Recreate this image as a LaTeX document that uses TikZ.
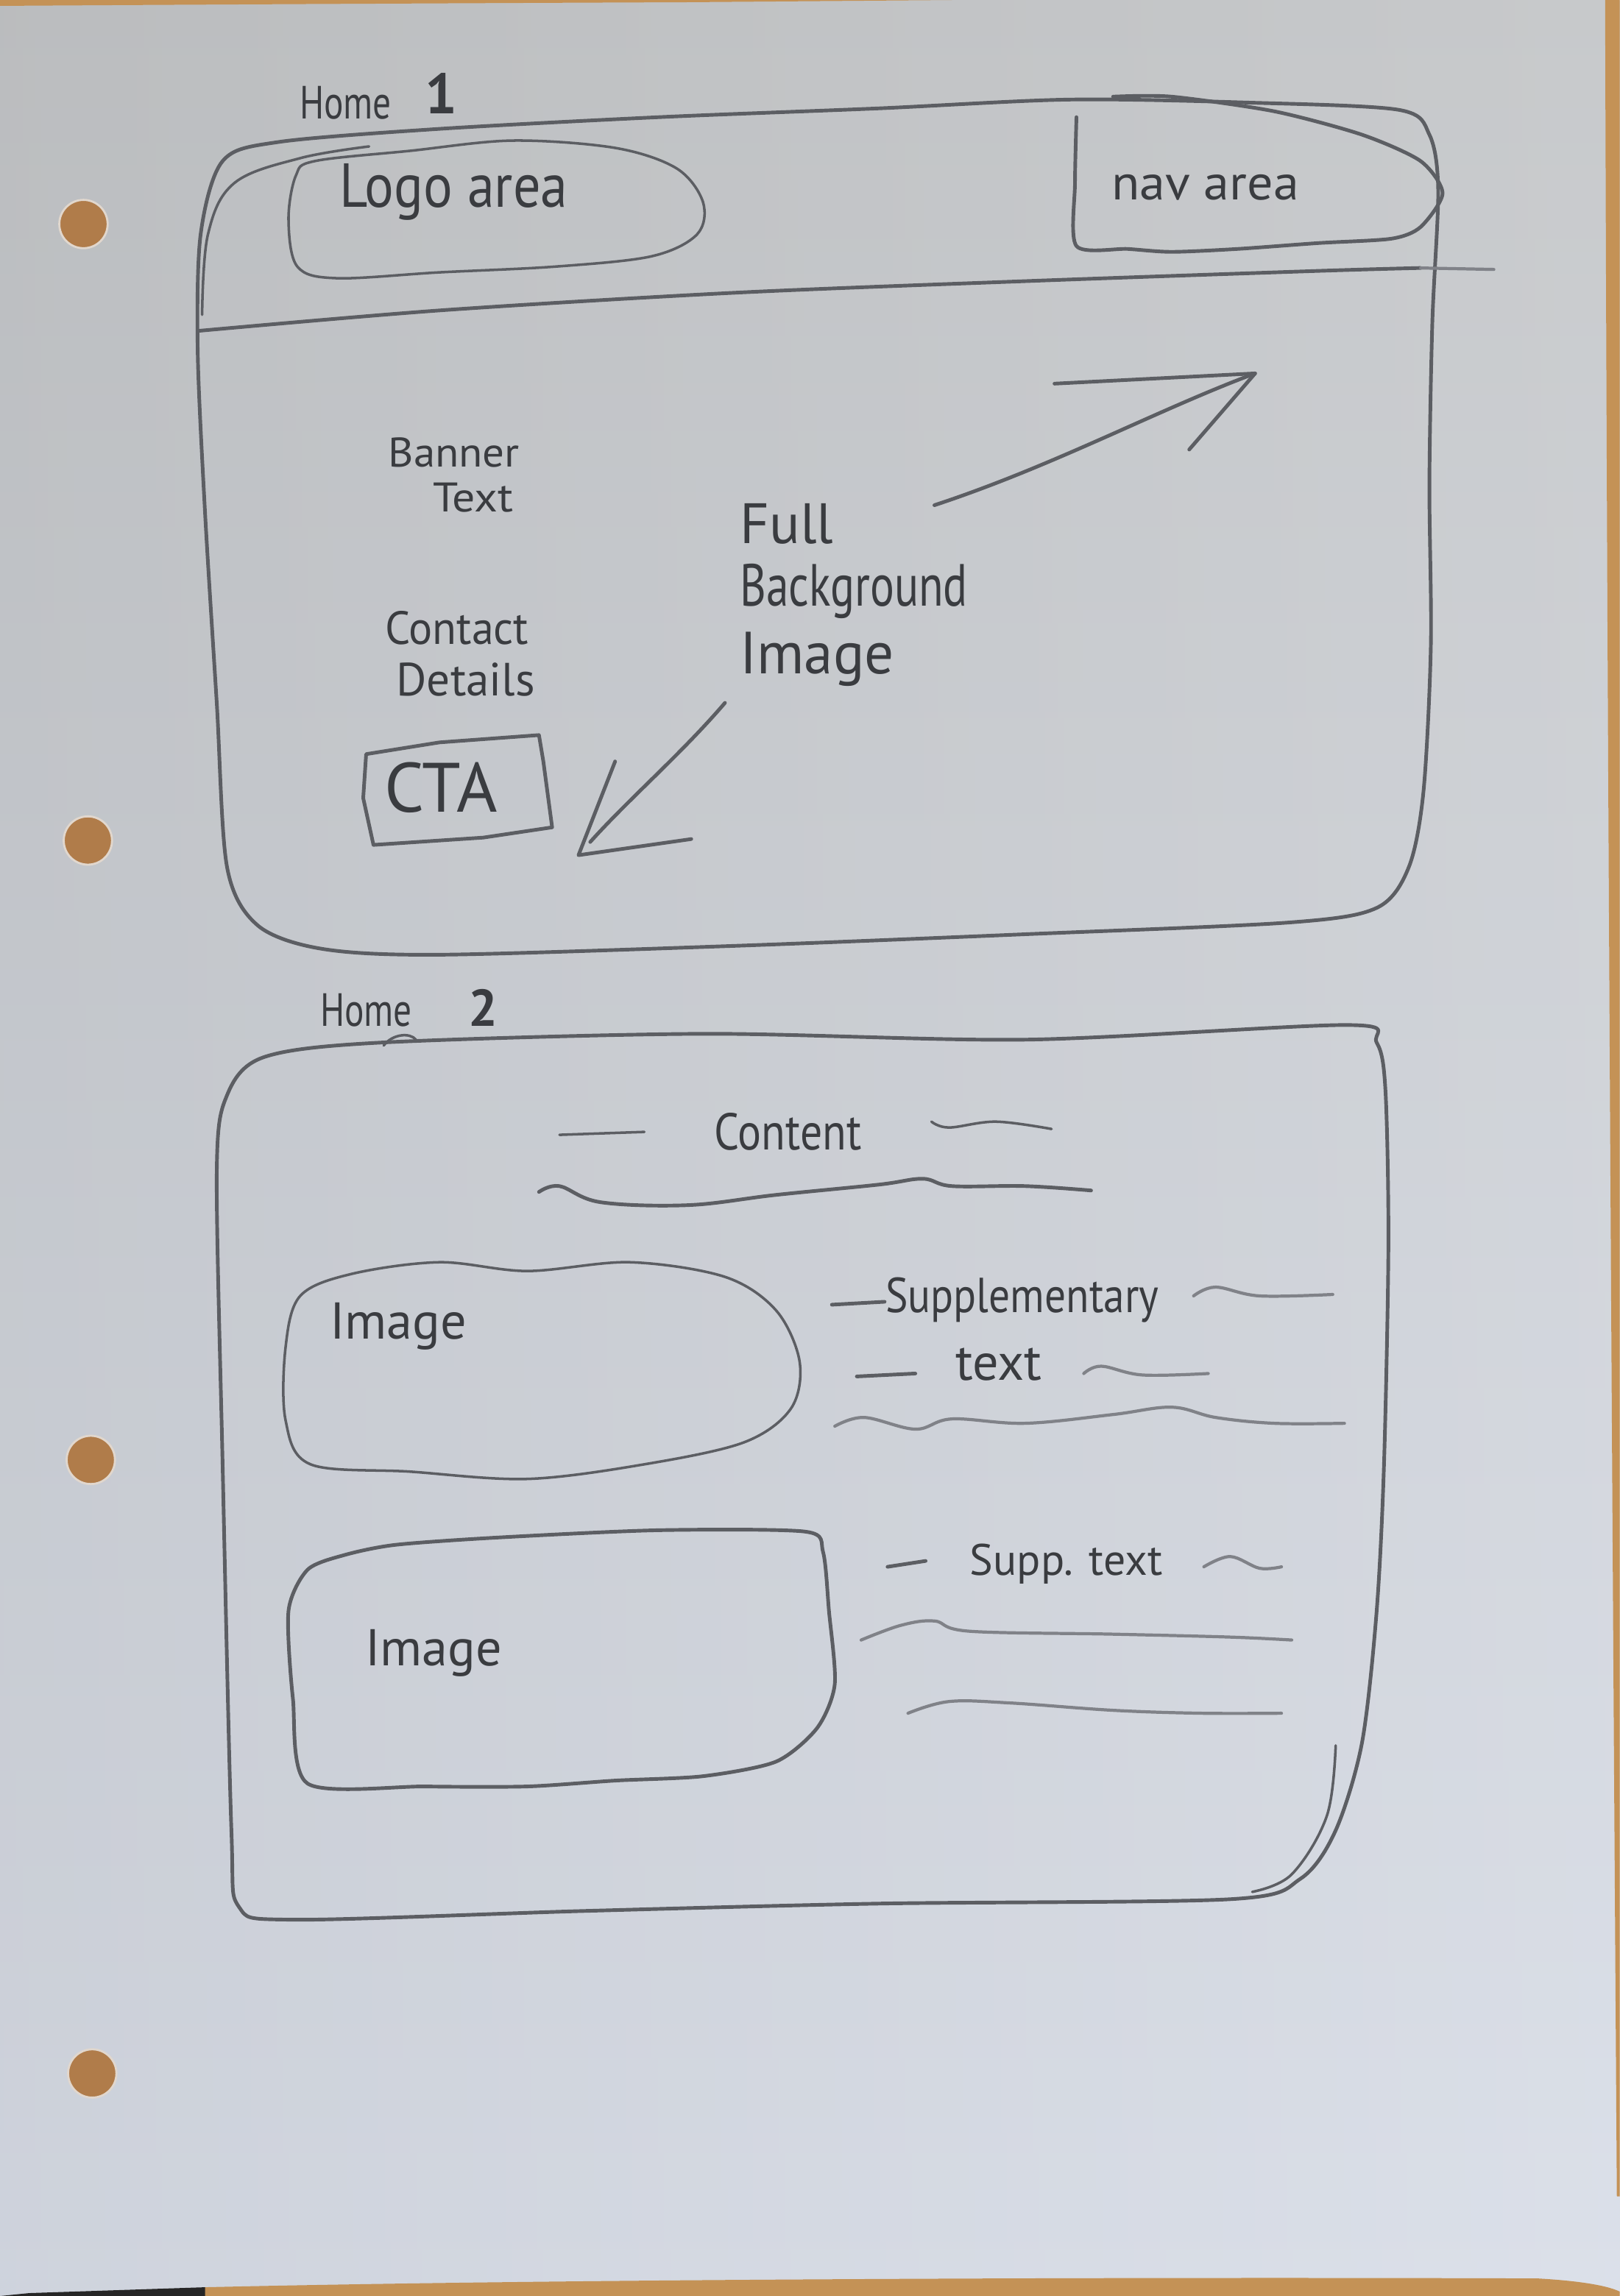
\documentclass[tikz,border=0pt]{standalone}
\usepackage{fontspec}
\usepackage{graphicx}
\newfontfamily\handfont{PT Sans}
\definecolor{paperA}{RGB}{197,199,201}
\definecolor{paperB}{RGB}{218,223,233}
\definecolor{wood}{RGB}{196,146,86}
\definecolor{woodDark}{RGB}{150,100,55}
\definecolor{holeFill}{RGB}{176,124,74}
\definecolor{holeRim}{RGB}{225,215,205}
\definecolor{pencil}{RGB}{92,94,99}
\definecolor{pencilDark}{RGB}{58,60,64}
\definecolor{pencilLight}{RGB}{128,130,136}
\newcommand{\nrw}[2][0.8]{\scalebox{#1}[1]{#2}}
\begin{document}
\begin{tikzpicture}[x=0.019892cm, y=-0.019892cm,
  stroke/.style={draw=pencil, line width=1.4pt, line cap=round, line join=round},
  thin stroke/.style={draw=pencil, line width=1.0pt, line cap=round, line join=round},
  faint/.style={draw=pencilLight, line width=1.2pt, line cap=round, line join=round},
  hand/.style={text=pencilDark, inner sep=0pt},
  hole/.style={fill=holeFill, draw=holeRim, line width=0.8pt}]
\useasboundingbox (0,0) rectangle (1106,1568);

% sheet of paper with the desk showing at the edges
\shade[top color=paperA, bottom color=paperB] (0,0) rectangle (1106,1568);
\shade[left color=black, right color=white, opacity=0.05] (0,0) rectangle (1106,1568);
\fill[wood] (0,0) -- (0,4) .. controls (150,3) and (350,2) .. (470,1.5) -- (650,0) -- cycle;
\fill[wood] (1096,0) -- (1106,0) -- (1106,1500) -- (1104,1500) .. controls (1100,900) and (1097,400) .. (1096,0) -- cycle;
\fill[wood] (120,1568) -- (140,1562) .. controls (400,1556) and (800,1555) .. (1050,1556) .. controls (1085,1558) and (1100,1562) .. (1106,1565) -- (1106,1568) -- cycle;
\fill[black!85] (0,1568) -- (20,1566) -- (140,1562) -- (140,1568) -- cycle;

% punch holes
\foreach \hx/\hy in {57/153, 60/574, 62/997, 63/1416}
  \draw[hole] (\hx,\hy) circle (16.5);

% ---------- Home 1 ----------
\node[hand, font={\handfont\fontsize{18}{20}\selectfont}] (home1) at (236,70) {\nrw[0.78]{Home}};
\node[hand, font={\handfont\bfseries\fontsize{22}{24}\selectfont}] (home1num) at (301,64) {1};

% outer page frame
\draw[stroke] plot[smooth cycle, tension=0.5] coordinates {
  (152,110) (190,97) (300,88) (450,80) (600,74) (730,68) (850,70) (955,75)
  (976,92) (982,130) (978,220) (976,330) (977,440) (972,540) (962,592)
  (940,620) (880,630) (700,638) (500,646) (300,652) (220,648) (176,632)
  (155,592) (148,480) (140,350) (135,240) (137,160)};
\draw[thin stroke] plot[smooth, tension=0.6] coordinates {(138,215) (142,160) (160,125) (205,108) (252,100)};

% header divider
\draw[stroke] plot[smooth, tension=0.5] coordinates {(135,226) (300,212) (500,200) (700,192) (900,185) (970,183)};
\draw[faint] (970,183) -- (1020,184);

% logo area
\draw[thin stroke] plot[smooth cycle, tension=0.55] coordinates {
  (215,110) (280,103) (350,96) (420,101) (462,115) (480,138) (476,160)
  (445,175) (380,182) (300,186) (230,190) (203,182) (197,150) (202,120)};
\node[hand, font={\handfont\fontsize{24}{26}\selectfont}] (logo) at (310,131) {\nrw[0.88]{Logo area}};

% navigation area
\draw[stroke] plot[smooth, tension=0.45] coordinates {
  (735,80) (734,125) (735,168) (770,170) (800,172) (845,170) (900,166)
  (950,163) (970,155) (985,132) (970,110) (930,92) (870,76) (800,66) (760,66)};
\node[hand, font={\handfont\fontsize{19}{21}\selectfont}] (nav) at (823,128) {\nrw[1.05]{nav area}};

% banner texts
\node[hand, font={\handfont\fontsize{16}{18}\selectfont}] (banner) at (310,309) {\nrw[1.05]{Banner}};
\node[hand, font={\handfont\fontsize{16}{18}\selectfont}] (bannertext) at (323,340) {\nrw[1.1]{Text}};
\node[hand, font={\handfont\fontsize{18}{20}\selectfont}] (contact) at (312,429) {\nrw[0.95]{Contact}};
\node[hand, font={\handfont\fontsize{18}{20}\selectfont}] (details) at (318,464) {\nrw[1.0]{Details}};

% call to action button
\draw[stroke] (250,515) -- (300,507) -- (368,502) -- (371,520) -- (377,565)
  -- (330,572) -- (255,577) -- (248,545) -- cycle;
\node[hand, font={\handfont\fontsize{27}{29}\selectfont}] (cta) at (301,538) {CTA};

% background image note
\node[hand, anchor=west, font={\handfont\fontsize{22}{24}\selectfont}] (full) at (505,358) {\nrw[1.0]{Full}};
\node[hand, anchor=west, font={\handfont\fontsize{23}{25}\selectfont}] (bkg) at (505,404) {\nrw[0.76]{Background}};
\node[hand, anchor=west, font={\handfont\fontsize{23}{25}\selectfont}] (bimg) at (505,450) {\nrw[0.98]{Image}};

% arrows pointing to the corners
\coordinate (a1s) at (638,345);
\coordinate (a1t) at (857,255);
\draw[stroke] (a1s) .. controls (720,318) and (790,280) .. (a1t);
\draw[stroke] (720,262) -- (a1t) -- (812,307);
\coordinate (a2s) at (495,480);
\coordinate (a2t) at (395,584);
\draw[stroke] (a2s) .. controls (465,515) and (430,545) .. (403,575);
\draw[stroke] (420,520) -- (a2t) -- (472,573);

% ---------- Home 2 ----------
\node[hand, font={\handfont\fontsize{18}{20}\selectfont}] (home2) at (250,690) {\nrw[0.78]{Home}};
\node[hand, font={\handfont\bfseries\fontsize{20}{22}\selectfont}] (home2num) at (330,688) {2};

\draw[stroke] plot[smooth cycle, tension=0.5] coordinates {
  (180,722) (260,712) (480,706) (700,710) (920,700) (940,712) (946,745)
  (948,850) (945,1000) (940,1100) (930,1190) (912,1250) (888,1283)
  (840,1297) (600,1300) (400,1305) (200,1311) (163,1302) (158,1250)
  (152,1000) (148,800) (155,748)};
\draw[thin stroke] plot[smooth, tension=0.6] coordinates {(912,1192) (906,1240) (882,1280) (855,1292)};
\draw[thin stroke] (262,714) .. controls (268,706) and (280,705) .. (284,710);

% content heading
\draw[thin stroke] (382,775) -- (440,773);
\node[hand, font={\handfont\fontsize{20}{22}\selectfont}] (content) at (538,773) {\nrw[0.85]{Content}};
\draw[thin stroke] plot[smooth, tension=0.6] coordinates {(636,766) (648,770) (680,766) (718,771)};
\draw[stroke] plot[smooth, tension=0.6] coordinates {
  (368,814) (382,810) (410,821) (470,823) (530,816) (600,809) (630,805)
  (650,810) (700,810) (745,813)};

% first image block
\draw[thin stroke] plot[smooth cycle, tension=0.55] coordinates {
  (240,870) (300,862) (360,868) (430,862) (495,872) (530,895) (546,930)
  (540,962) (508,985) (440,1000) (360,1010) (280,1005) (212,1000)
  (195,970) (195,920) (205,885)};
\node[hand, font={\handfont\fontsize{20}{22}\selectfont}] (img1) at (272,906) {Image};

\draw[stroke] (568,891) -- (604,889);
\node[hand, font={\handfont\fontsize{19}{21}\selectfont}] (supp) at (698,888) {\nrw[0.86]{Supplementary}};
\draw[faint] plot[smooth, tension=0.6] coordinates {(815,885) (830,879) (860,885) (910,884)};
\draw[stroke] (585,940) -- (625,938);
\node[hand, font={\handfont\fontsize{20}{22}\selectfont}] (suppt) at (682,932) {text};
\draw[faint] plot[smooth, tension=0.6] coordinates {(740,938) (752,933) (780,939) (825,938)};
\draw[faint] plot[smooth, tension=0.6] coordinates {
  (570,974) (590,968) (625,976) (650,969) (700,972) (760,966) (800,961)
  (830,968) (870,972) (918,972)};

% second image block
\draw[stroke] plot[smooth cycle, tension=0.45] coordinates {
  (270,1055) (340,1050) (450,1045) (550,1046) (562,1060) (566,1100)
  (570,1150) (558,1180) (530,1203) (480,1213) (420,1216) (360,1220)
  (290,1220) (210,1218) (200,1160) (197,1100) (210,1072) (235,1062)};
\node[hand, font={\handfont\fontsize{20}{22}\selectfont}] (img2) at (296,1129) {Image};

\draw[stroke] (606,1070) -- (632,1066);
\node[hand, font={\handfont\fontsize{17}{19}\selectfont}] (supp2) at (728,1068) {Supp. text};
\draw[faint] plot[smooth, tension=0.6] coordinates {(822,1070) (840,1063) (860,1071) (875,1070)};
\draw[faint] plot[smooth, tension=0.6] coordinates {
  (588,1120) (615,1110) (638,1107) (662,1114) (760,1116) (840,1118) (882,1120)};
\draw[faint] plot[smooth, tension=0.6] coordinates {
  (620,1170) (648,1162) (690,1163) (760,1168) (820,1170) (875,1170)};
\end{tikzpicture}
\end{document}
